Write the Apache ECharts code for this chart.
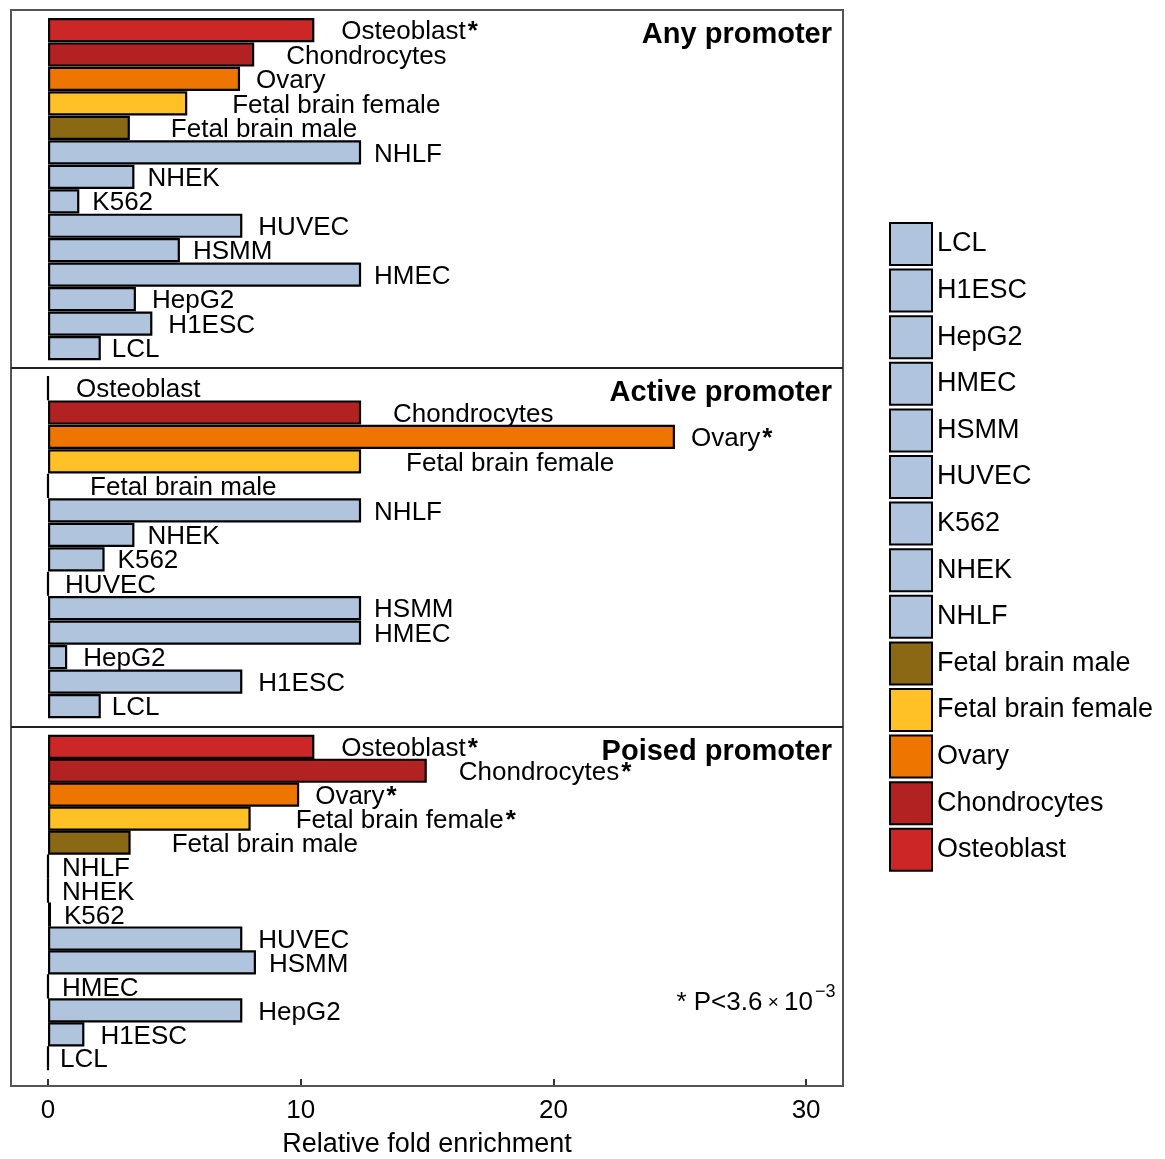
<!DOCTYPE html>
<html>
<head>
<meta charset="utf-8">
<script src="https://cdn.jsdelivr.net/npm/echarts@6/dist/echarts.min.js"></script>
<style>
  html, body { margin: 0; padding: 0; background: #fff; }
  #chart { width: 1165px; height: 1159px; }
</style>
</head>
<body>
<div id="chart"></div>
<script>
// Cell types, listed bottom row first (legend runs in the same order)
const categories = ['LCL', 'H1ESC', 'HepG2', 'HMEC', 'HSMM', 'HUVEC', 'K562', 'NHEK', 'NHLF',
  'Fetal brain male', 'Fetal brain female', 'Ovary', 'Chondrocytes', 'Osteoblast'];

// Relative fold enrichment per promoter class, same order as categories
const anyPromoter    = [2.09, 4.13, 3.48, 12.39, 5.22, 7.69, 1.24, 3.42, 12.39, 3.24, 5.51, 7.60, 8.16, 10.54];
const activePromoter = [2.09, 7.69, 0.76, 12.39, 12.39, 0, 2.24, 3.42, 12.39, 0, 12.39, 24.81, 12.39, 0];
const poisedPromoter = [0, 1.44, 7.69, 0, 8.23, 7.69, 0.12, 0, 0, 3.27, 8.02, 9.94, 14.99, 10.54];

// Cell types marked significant in each panel
const anySignificant    = ['Osteoblast'];
const activeSignificant = ['Ovary'];
const poisedSignificant = ['Osteoblast', 'Chondrocytes', 'Ovary', 'Fetal brain female'];

const panelTitles = ['Any promoter', 'Active promoter', 'Poised promoter'];
const xTicks = [0, 10, 20, 30];
const xTitle = 'Relative fold enrichment';
const noteText = '* P<3.6';

const panels = [
  { title: panelTitles[0], values: anyPromoter, sig: anySignificant },
  { title: panelTitles[1], values: activePromoter, sig: activeSignificant },
  { title: panelTitles[2], values: poisedPromoter, sig: poisedSignificant }
];

// Styling
const FONT = '"Liberation Sans", Arial, Helvetica, sans-serif';
const fillColors = {
  'LCL': '#B0C4DE', 'H1ESC': '#B0C4DE', 'HepG2': '#B0C4DE', 'HMEC': '#B0C4DE', 'HSMM': '#B0C4DE',
  'HUVEC': '#B0C4DE', 'K562': '#B0C4DE', 'NHEK': '#B0C4DE', 'NHLF': '#B0C4DE',
  'Fetal brain male': '#8B6914', 'Fetal brain female': '#FFC125', 'Ovary': '#EE7600',
  'Chondrocytes': '#B22222', 'Osteoblast': '#CD2626'
};
const FRAME_LEFT = 11, FRAME_RIGHT = 843;
const PANEL_TOPS = [10, 368, 727];
const FRAME_BOTTOM = 1086;
const BAR_INSET = 7.8, BAR_AREA_H = 342.5;
const X_MIN = -1.464, X_MAX = 31.46;

const grids = panels.map((p, i) => ({
  left: FRAME_LEFT, width: FRAME_RIGHT - FRAME_LEFT,
  top: PANEL_TOPS[i] + BAR_INSET, height: BAR_AREA_H
}));

const xAxes = panels.map((p, i) => {
  const last = i === panels.length - 1;
  return {
    type: 'value', gridIndex: i, min: X_MIN, max: X_MAX,
    show: last,
    offset: last ? FRAME_BOTTOM - (PANEL_TOPS[i] + BAR_INSET + BAR_AREA_H) : 0,
    splitLine: { show: false },
    axisLine: { show: false },
    axisTick: { show: true, customValues: xTicks, length: 6, lineStyle: { color: '#333', width: 2 } },
    axisLabel: { show: true, customValues: xTicks, fontSize: 26, color: '#000', fontFamily: FONT, margin: 19 },
    name: last ? xTitle : '',
    nameLocation: 'middle', nameGap: 52,
    nameTextStyle: { fontSize: 27, color: '#000', fontFamily: FONT }
  };
});

const yAxes = panels.map((p, i) => ({
  type: 'category', gridIndex: i, data: categories, show: false
}));

const barSeries = panels.map((p, i) => ({
  type: 'bar', name: p.title, xAxisIndex: i, yAxisIndex: i,
  stack: 'panel' + i,
  barWidth: 24.2,
  silent: true,
  itemStyle: { borderColor: '#000', borderWidth: 2.2 },
  label: {
    show: true, position: 'right', color: '#000', fontSize: 26, fontFamily: FONT,
    offset: [0, 2],
    formatter: (params) => params.name + (p.sig.includes(params.name) ? '{s|*}' : ''),
    rich: { s: { fontSize: 26, fontWeight: 'bold', color: '#000', fontFamily: FONT, padding: [0, 0, 0, 2] } }
  },
  data: p.values.map((v, k) => ({
    value: v,
    itemStyle: { color: fillColors[categories[k]] },
    // longer names sit a little further out from the bar end
    label: { distance: Math.round(2.3 * categories[k].length + 4) }
  }))
}));

// Empty series that only feed the legend
const legendSeries = categories.map(c => ({
  type: 'bar', name: c, xAxisIndex: 0, yAxisIndex: 0, stack: 'panel0',
  data: [], itemStyle: { color: fillColors[c], borderColor: '#000', borderWidth: 2 }
}));

const graphics = [
  { type: 'rect', silent: true, z: 50,
    shape: { x: FRAME_LEFT, y: PANEL_TOPS[0], width: FRAME_RIGHT - FRAME_LEFT, height: FRAME_BOTTOM - PANEL_TOPS[0] },
    style: { fill: 'none', stroke: '#555', lineWidth: 2 } },
  ...PANEL_TOPS.slice(1).map(y => ({
    type: 'line', silent: true, z: 50,
    shape: { x1: FRAME_LEFT, y1: y, x2: FRAME_RIGHT, y2: y },
    style: { stroke: '#222', lineWidth: 2 }
  })),
  ...panels.map((p, i) => ({
    type: 'text', silent: true, z: 50, x: 832, y: PANEL_TOPS[i] + 25,
    style: { text: p.title, fill: '#000', font: 'bold 29px ' + FONT, align: 'right', verticalAlign: 'middle' }
  })),
  { type: 'text', silent: true, z: 50, x: 813, y: 1003,
    style: {
      text: '{a|' + noteText + '}{x| × }{a|10}', align: 'right', verticalAlign: 'middle',
      rich: {
        a: { fontSize: 26, fontFamily: FONT, fill: '#000' },
        x: { fontSize: 19, fontFamily: FONT, fill: '#000' }
      }
    } },
  { type: 'text', silent: true, z: 50, x: 815, y: 992,
    style: { text: '−3', fill: '#000', font: '18px ' + FONT, align: 'left', verticalAlign: 'middle' } }
];

const chart = echarts.init(document.getElementById('chart'), null, { renderer: 'canvas' });
chart.setOption({
  animation: false,
  textStyle: { fontFamily: FONT },
  grid: grids,
  xAxis: xAxes,
  yAxis: yAxes,
  legend: {
    orient: 'vertical', left: 889, top: 222, padding: 0,
    itemWidth: 42, itemHeight: 42, itemGap: 2.6,
    icon: 'rect', selectedMode: false,
    itemStyle: { borderColor: '#000', borderWidth: 2 },
    textStyle: { fontSize: 27, color: '#000', fontFamily: FONT },
    data: categories
  },
  series: [...legendSeries, ...barSeries],
  graphic: graphics
});
</script>
</body>
</html>
